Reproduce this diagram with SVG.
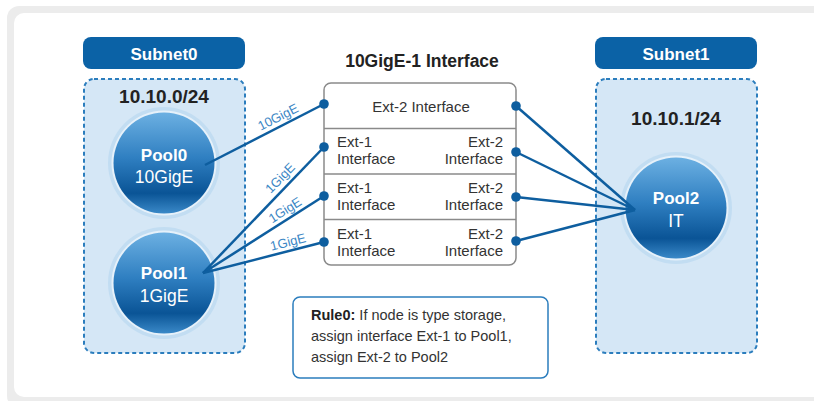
<svg xmlns="http://www.w3.org/2000/svg" width="814" height="401" viewBox="0 0 814 401">
  <defs>
    <linearGradient id="sphere" x1="0" y1="0" x2="0" y2="1">
      <stop offset="0" stop-color="#6cb0e2"/>
      <stop offset="0.45" stop-color="#2f7fc1"/>
      <stop offset="0.8" stop-color="#0a5496"/>
      <stop offset="1" stop-color="#3a89c8"/>
    </linearGradient>
    <style>
      .sans { font-family: "Liberation Sans", Arial, sans-serif; }
      .header { fill: #0b62a6; }
      .header-text { fill: #ffffff; font-weight: bold; font-size: 17px; text-anchor: middle; }
      .subnet { fill: #d5e7f6; stroke: #2b7dbd; stroke-width: 2; stroke-dasharray: 4 3; }
      .cidr { fill: #222; font-weight: bold; font-size: 19px; text-anchor: middle; }
      .halo { fill: #c2ddf2; }
      .halo-inner { fill: #e6f1fa; }
      .ball { fill: url(#sphere); }
      .pool-name { fill: #fff; font-weight: bold; font-size: 17px; text-anchor: middle; }
      .pool-sub { fill: #fff; font-size: 17.5px; text-anchor: middle; }
      .iface { fill: #fff; stroke: #8a8a8a; stroke-width: 1.5; }
      .divider { stroke: #8a8a8a; stroke-width: 1.5; }
      .iface-text { fill: #333; font-size: 15px; }
      .title { fill: #222; font-weight: bold; font-size: 17.5px; text-anchor: middle; }
      .link { stroke: #0e5e9f; stroke-width: 2.5; fill: none; }
      .dot { fill: #0e5e9f; }
      .speed { fill: #3a86c5; font-size: 13px; text-anchor: middle; }
      .rule { fill: #fff; stroke: #2b7dbd; stroke-width: 1.5; }
      .rule-text { fill: #333; font-size: 14.5px; }
    </style>
  </defs>

  <!-- card background -->
  <rect x="7" y="6" width="830" height="402" rx="12" fill="#ececec"/>
  <rect x="14" y="13" width="820" height="384" rx="10" fill="#ffffff"/>

  <!-- Subnet0 -->
  <g id="subnet0" class="sans">
    <rect class="header" x="83" y="37" width="162" height="32" rx="8"/>
    <text class="header-text" x="164" y="60">Subnet0</text>
    <rect class="subnet" x="84" y="79" width="161" height="274" rx="10"/>
    <text class="cidr" x="164" y="103">10.10.0/24</text>
  </g>

  <!-- Subnet1 -->
  <g id="subnet1" class="sans">
    <rect class="header" x="595" y="37" width="162" height="32" rx="8"/>
    <text class="header-text" x="676" y="60">Subnet1</text>
    <rect class="subnet" x="596" y="79" width="161" height="274" rx="10"/>
    <text class="cidr" x="676" y="125">10.10.1/24</text>
  </g>

  <!-- Pool0 -->
  <g id="pool0" class="sans">
    <circle class="halo" cx="164" cy="163" r="56"/>
    <circle class="halo-inner" cx="164" cy="163" r="52.5"/>
    <circle class="ball" cx="164" cy="163" r="50.5"/>
    <text class="pool-name" x="164" y="161">Pool0</text>
    <text class="pool-sub" x="164" y="183">10GigE</text>
  </g>

  <!-- Pool1 -->
  <g id="pool1" class="sans">
    <circle class="halo" cx="164" cy="283" r="56"/>
    <circle class="halo-inner" cx="164" cy="283" r="52.5"/>
    <circle class="ball" cx="164" cy="283" r="50.5"/>
    <text class="pool-name" x="164" y="279">Pool1</text>
    <text class="pool-sub" x="164" y="302">1GigE</text>
  </g>

  <!-- Pool2 -->
  <g id="pool2" class="sans">
    <circle class="halo" cx="676" cy="208" r="56"/>
    <circle class="halo-inner" cx="676" cy="208" r="52.5"/>
    <circle class="ball" cx="676" cy="208" r="50.5"/>
    <text class="pool-name" x="676" y="204">Pool2</text>
    <text class="pool-sub" x="676" y="227">IT</text>
  </g>

  <!-- 10GigE-1 interface block -->
  <g id="interface" class="sans">
    <text class="title" x="422" y="67">10GigE-1 Interface</text>
    <rect class="iface" x="324" y="83" width="192" height="182" rx="7"/>
    <line class="divider" x1="324" y1="128.5" x2="516" y2="128.5"/>
    <line class="divider" x1="324" y1="174" x2="516" y2="174"/>
    <line class="divider" x1="324" y1="219.5" x2="516" y2="219.5"/>
    <text class="iface-text" x="421" y="112" text-anchor="middle">Ext-2 Interface</text>
    <g class="iface-text">
      <text x="337" y="147">Ext-1</text>
      <text x="337" y="164">Interface</text>
      <text x="503" y="147" text-anchor="end">Ext-2</text>
      <text x="503" y="164" text-anchor="end">Interface</text>
      <text x="337" y="193">Ext-1</text>
      <text x="337" y="210">Interface</text>
      <text x="503" y="193" text-anchor="end">Ext-2</text>
      <text x="503" y="210" text-anchor="end">Interface</text>
      <text x="337" y="239">Ext-1</text>
      <text x="337" y="256">Interface</text>
      <text x="503" y="239" text-anchor="end">Ext-2</text>
      <text x="503" y="256" text-anchor="end">Interface</text>
    </g>
  </g>

  <!-- Rule0 note -->
  <g id="rule0" class="sans">
    <rect class="rule" x="293" y="297" width="255" height="81" rx="7"/>
    <text class="rule-text" x="311" y="320"><tspan font-weight="bold" fill="#222">Rule0:</tspan> If node is type storage,</text>
    <text class="rule-text" x="311" y="341">assign interface Ext-1 to Pool1,</text>
    <text class="rule-text" x="311" y="362">assign Ext-2 to Pool2</text>
  </g>

  <!-- links between pools and interfaces -->
  <g id="connectors" class="sans">
    <line class="link" x1="205" y1="165" x2="324" y2="104"/>
    <line class="link" x1="203" y1="273" x2="324" y2="147"/>
    <line class="link" x1="203" y1="273" x2="324" y2="196"/>
    <line class="link" x1="203" y1="273" x2="324" y2="242"/>
    <line class="link" x1="516" y1="106" x2="635" y2="210"/>
    <line class="link" x1="516" y1="152" x2="635" y2="210"/>
    <line class="link" x1="516" y1="197" x2="635" y2="210"/>
    <line class="link" x1="516" y1="241" x2="635" y2="210"/>
    <circle class="dot" cx="324" cy="104" r="4.8"/>
    <circle class="dot" cx="324" cy="147" r="4.8"/>
    <circle class="dot" cx="324" cy="196" r="4.8"/>
    <circle class="dot" cx="324" cy="242" r="4.8"/>
    <circle class="dot" cx="516" cy="106" r="4.8"/>
    <circle class="dot" cx="516" cy="152" r="4.8"/>
    <circle class="dot" cx="516" cy="197" r="4.8"/>
    <circle class="dot" cx="516" cy="241" r="4.8"/>
    <text class="speed" transform="translate(278 117) rotate(-27)" y="4.5">10GigE</text>
    <text class="speed" transform="translate(280 178) rotate(-46)" y="4.5">1GigE</text>
    <text class="speed" transform="translate(285 210) rotate(-32.5)" y="4.5">1GigE</text>
    <text class="speed" transform="translate(288 242) rotate(-14.4)" y="4.5">1GigE</text>
  </g>
</svg>
